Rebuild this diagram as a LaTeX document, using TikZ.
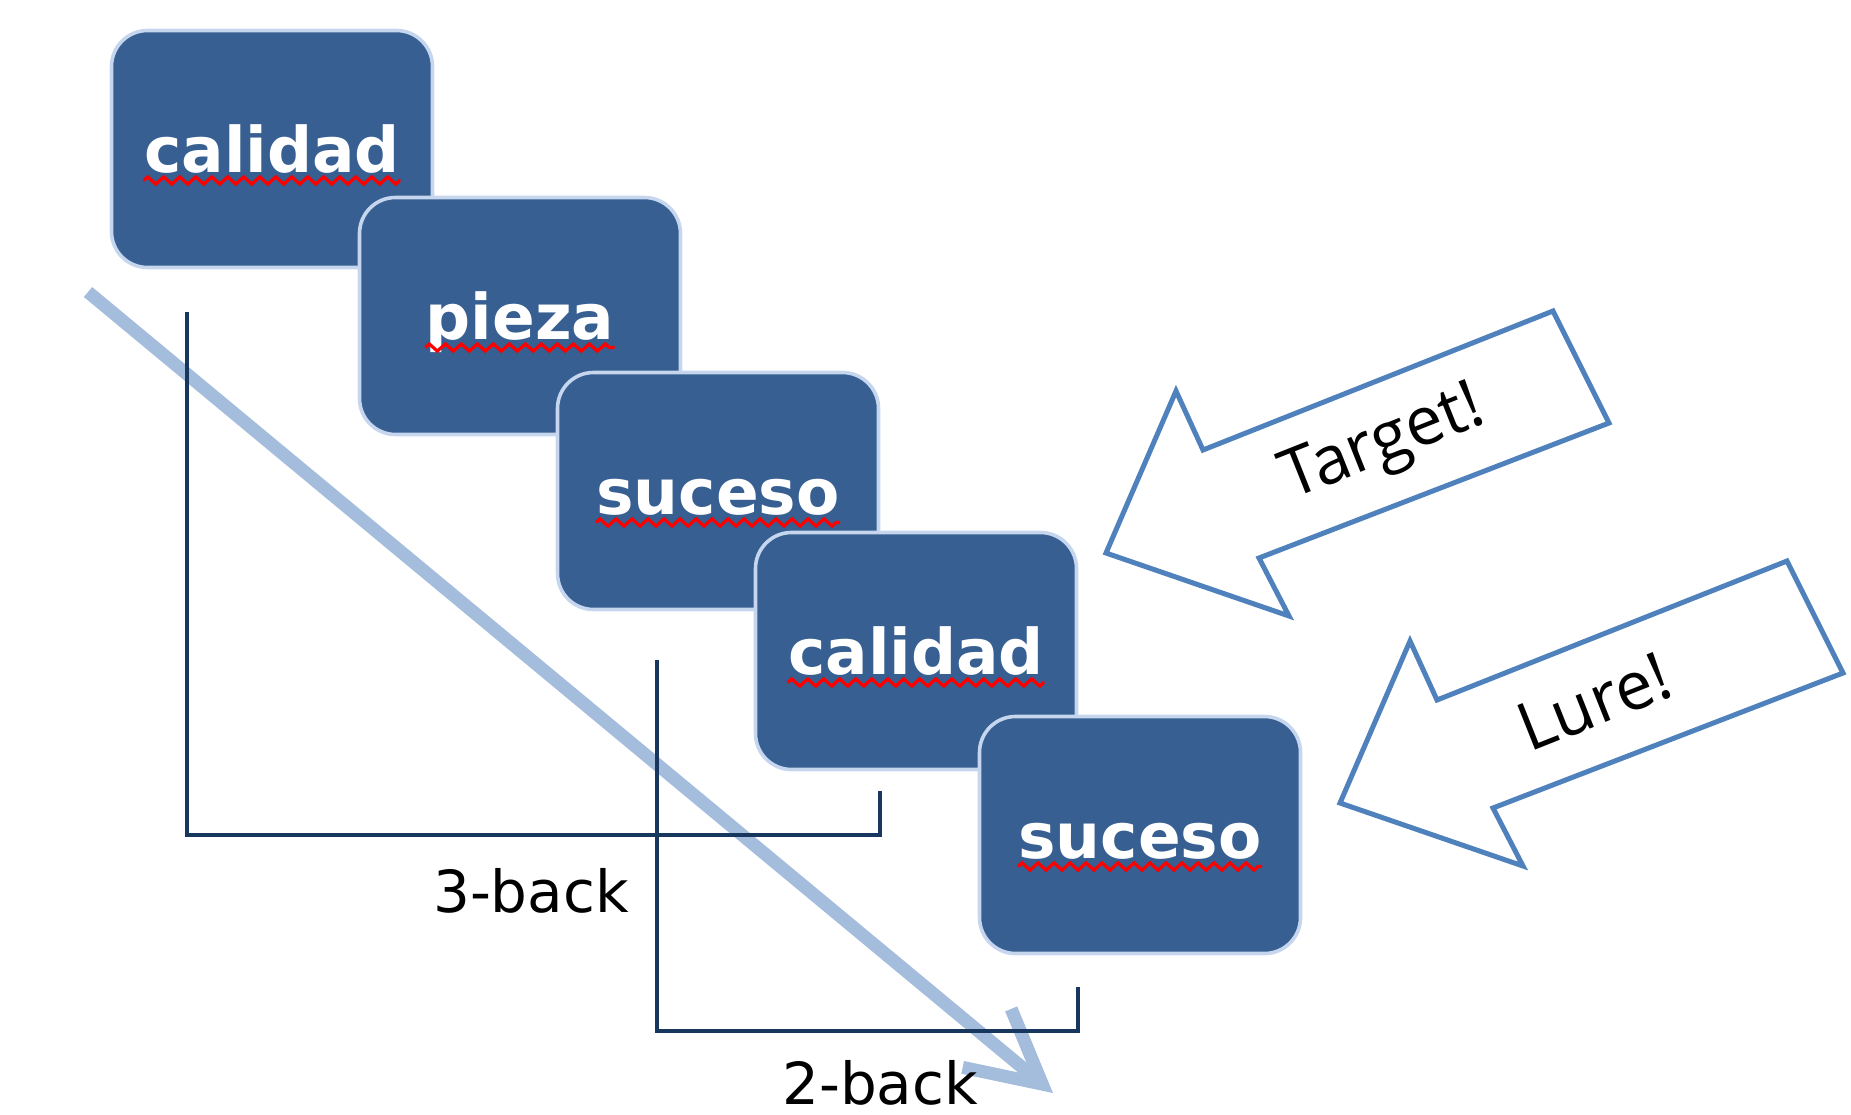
\documentclass[tikz,border=0pt]{standalone}
\usepackage{fontspec}
\setmainfont{DejaVu Sans}
\newfontfamily\cuefont{Open Sans}
\usetikzlibrary{arrows.meta,positioning,decorations.pathmorphing}
\definecolor{boxfill}{RGB}{55,95,145}
\definecolor{boxedge}{RGB}{197,214,238}
\definecolor{brkcol}{RGB}{23,55,94}
\definecolor{timecol}{RGB}{165,189,221}
\definecolor{cuecol}{RGB}{79,129,189}

\begin{document}
\begin{tikzpicture}[x=0.5pt, y=-0.5pt,
  box/.style={rectangle, rounded corners=18pt, fill=boxfill, draw=boxedge, line width=1.8pt, minimum width=160.5pt, minimum height=118.5pt, outer sep=0pt},
  word/.style={anchor=base, inner sep=0pt, text=white, font=\fontsize{31.5}{36}\selectfont\bfseries},
  squig/.style={draw=red, line width=1.6pt, decorate, decoration={zigzag, segment length=8pt, amplitude=1.8pt}},
  brk/.style={draw=brkcol, line width=2pt},
  lbl/.style={anchor=base, inner sep=0pt, font=\fontsize{29}{34}\selectfont},
  timeline/.style={draw=timecol, line width=6.5pt, -{Straight Barb[length=36pt, width=38pt]}},
  cue/.style={draw=cuecol, fill=white, line width=2.5pt, line join=miter},
  cuetext/.style={inner sep=0pt, rotate=21.7, font=\cuefont\fontsize{33.5}{38}\selectfont}]
\useasboundingbox (0,0) rectangle (1851,1114);

% word cards
\node[box] (b1) at (272,149) {};
\node[box] (b2) at (520,316) {};
\node[box] (b3) at (718,491) {};
\node[box] (b4) at (916,651) {};
\node[box] (b5) at (1140,835) {};
\foreach \i/\w in {1/calidad,2/pieza,3/suceso,4/calidad,5/suceso}
  \node[word] (w\i) at ([yshift=-71pt]b\i.north) {\w};
\foreach \i in {1,...,5}
  \draw[squig] ([yshift=-4pt]w\i.base west) -- ([yshift=-4pt]w\i.base east);

% time axis
\coordinate (t0) at (88,292);
\coordinate (t1) at (1053,1093);
\draw[timeline] (t0) -- (t1);

% n-back brackets
\coordinate (k3a) at (187,312);
\coordinate (k3b) at (880,791);
\coordinate (k2a) at (657,660);
\coordinate (k2b) at (1078,987);
\draw[brk] (k3a) -- ++(0,523) -| (k3b);
\draw[brk] (k2a) -- ++(0,371) -| (k2b);
\node[lbl] (l3) at (531,912) {3-back};
\node[lbl] (l2) at (880,1104) {2-back};

% response cues
\foreach \x/\y in {1106/553,1340/803}
  \draw[cue, shift={(\x,\y)}] (0,0) -- (70,-162) -- (97,-103) -- (447,-242)
    -- (503,-130) -- (153,5) -- (183,63) -- cycle;
\node[cuetext] (tgt) at (1384,446) {Target!};
\node[cuetext] (lur) at (1594,702) {Lure!};
\end{tikzpicture}
\end{document}
